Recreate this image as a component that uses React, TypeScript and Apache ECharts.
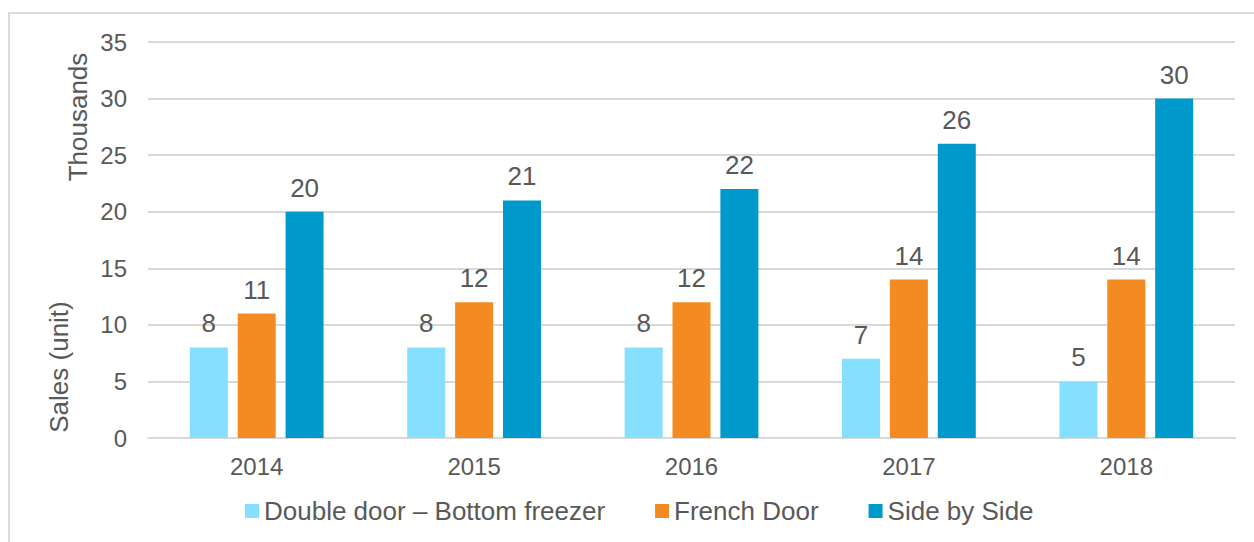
import React, { useEffect, useRef } from "react";
import * as echarts from "echarts";

const years = ["2014", "2015", "2016", "2017", "2018"];
const doubleDoor = [8, 8, 8, 7, 5];
const frenchDoor = [11, 12, 12, 14, 14];
const sideBySide = [20, 21, 22, 26, 30];
const seriesNames = ["Double door – Bottom freezer", "French Door", "Side by Side"];
const seriesColors = ["#85DFFF", "#F48B22", "#0099CC"];

const FONT = "'Liberation Sans', Arial, sans-serif";
const TEXT = "#595959";

export default function App() {
  const ref = useRef<HTMLDivElement>(null);
  useEffect(() => {
    if (!ref.current) return;
    const chart = echarts.init(ref.current, undefined, { renderer: "svg" });
    const data = [doubleDoor, frenchDoor, sideBySide];
    chart.setOption({
      animation: false,
      backgroundColor: "#ffffff",
      textStyle: { fontFamily: FONT },
      grid: { left: 148, right: 19, top: 42, bottom: 104, containLabel: false },
      legend: {
        top: 498,
        left: 245,
        padding: 0,
        itemWidth: 14,
        itemHeight: 14,
        itemGap: 50,
        icon: "rect",
        textStyle: { color: TEXT, fontSize: 26, fontFamily: FONT },
        data: seriesNames,
      },
      xAxis: {
        type: "category",
        data: years,
        axisLine: { lineStyle: { color: "#D9D9D9", width: 2 } },
        axisTick: { show: false },
        axisLabel: { color: TEXT, fontSize: 24, fontFamily: FONT, margin: 16 },
      },
      yAxis: {
        type: "value",
        min: 0,
        max: 35,
        interval: 5,
        axisLine: { show: false },
        axisTick: { show: false },
        splitLine: { lineStyle: { color: "#D9D9D9", width: 2 } },
        axisLabel: { color: TEXT, fontSize: 24, fontFamily: FONT, margin: 21 },
      },
      graphic: [
        {
          type: "rect",
          shape: { x: 9, y: 13, width: 1260, height: 560 },
          style: { fill: "none", stroke: "#D0D0D0", lineWidth: 1.5 },
          z: -10,
        },
        {
          type: "text",
          x: 78,
          y: 117,
          rotation: Math.PI / 2,
          style: {
            text: "Thousands",
            fill: TEXT,
            font: `26px ${FONT}`,
            align: "center",
            verticalAlign: "middle",
          },
        },
        {
          type: "text",
          x: 59,
          y: 367,
          rotation: Math.PI / 2,
          style: {
            text: "Sales (unit)",
            fill: TEXT,
            font: `26px ${FONT}`,
            align: "center",
            verticalAlign: "middle",
          },
        },
      ],
      series: data.map((d, i) => ({
        name: seriesNames[i],
        type: "bar",
        data: d,
        barWidth: 38,
        barGap: "26%",
        itemStyle: { color: seriesColors[i] },
        label: {
          show: true,
          position: "top",
          distance: 11,
          color: TEXT,
          fontSize: 26,
          fontFamily: FONT,
        },
      })),
    });
    return () => chart.dispose();
  }, []);
  return (
    <div
      ref={ref}
      style={{ position: "fixed", left: 0, top: 0, width: 1254, height: 542 }}
    />
  );
}
